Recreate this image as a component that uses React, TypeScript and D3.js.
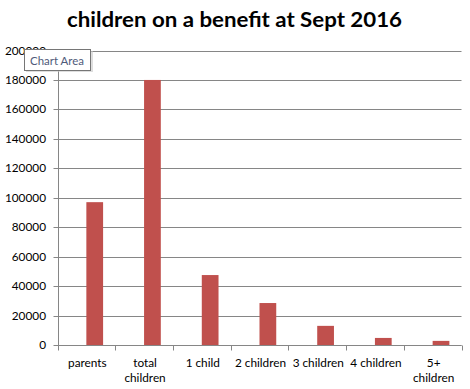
import React from 'react';
import * as d3 from 'd3';

const title = 'children on a benefit at Sept 2016';
const categories = ['parents', 'total children', '1 child', '2 children', '3 children', '4 children', '5+ children'];
const categoryLines = [['parents'], ['total', 'children'], ['1 child'], ['2 children'], ['3 children'], ['4 children'], ['5+', 'children']];
const values = [97000, 180000, 47500, 28500, 13000, 4800, 2800];
const yTicks = [0, 20000, 40000, 60000, 80000, 100000, 120000, 140000, 160000, 180000, 200000];

const W = 470;
const H = 389;
const font = 'Lato, "Open Sans", sans-serif';
const gridColor = '#868686';
const barColor = '#C0504D';

const App = () => {
    const margin = { top: 50.5, right: 8.5, bottom: 44, left: 57.5 };

    const y = d3.scaleLinear()
        .domain([0, 200000])
        .range([H - margin.bottom, margin.top]);

    const x = d3.scaleBand()
        .domain(categories)
        .range([margin.left, W - margin.right])
        .padding(0);

    const bw = x.bandwidth();
    const barWidth = bw * 0.29;
    const px = (v: number) => Math.round(v) + 0.5;
    const y0 = px(y(0));

    return (
        <div style={{ position: 'absolute', left: 0, top: 0 }}>
            <svg width={W} height={H} style={{ display: 'block', background: '#fff' }}>
                <text x={234.5} y={27} textAnchor='middle' fontFamily={font} fontWeight='bold'
                    fontSize={20} fill='#000' textLength={335} lengthAdjust='spacingAndGlyphs'>
                    {title}
                </text>

                {/* gridlines + y ticks */}
                {yTicks.map(t => (
                    <g key={t}>
                        <line x1={margin.left - 4} x2={W - margin.right} y1={px(y(t))} y2={px(y(t))}
                            stroke={gridColor} strokeWidth={1} />
                        <text x={46} y={y(t) + 4} textAnchor='end' fontFamily={font} fontSize={11.8} fill='#000'>
                            {t}
                        </text>
                    </g>
                ))}

                {/* bars */}
                {categories.map((c, i) => (
                    <rect key={c}
                        x={(x(c) as number) + bw / 2}
                        y={y(values[i])}
                        width={barWidth}
                        height={y(0) - y(values[i])}
                        fill={barColor} />
                ))}

                {/* axes */}
                <line x1={px(margin.left)} x2={px(margin.left)} y1={px(y(200000))} y2={y0} stroke={gridColor} />
                <line x1={margin.left} x2={W - margin.right} y1={y0} y2={y0} stroke={gridColor} />
                {categories.concat(['end']).map((c, i) => {
                    const xx = px(margin.left + i * bw);
                    return <line key={c} x1={xx} x2={xx} y1={y0} y2={y0 + 5} stroke={gridColor} />;
                })}

                {/* category labels */}
                {categories.map((c, i) => (
                    <text key={c} textAnchor='middle' fontFamily={font} fontSize={11.8} fill='#000'>
                        {categoryLines[i].map((ln, j) => (
                            <tspan key={j} x={(x(c) as number) + bw / 2 + 1} y={366.5 + j * 15}>{ln}</tspan>
                        ))}
                    </text>
                ))}

                {/* Chart Area tooltip */}
                <rect x={26} y={51} width={67} height={21} fill='#c8c8c8' opacity={0.6} />
                <rect x={24.5} y={49.5} width={66} height={21} fill='#fff' stroke='#767676' />
                <text x={30} y={64.5} fontFamily={font} fontSize={12} fill='#4f5b7a'
                    textLength={54} lengthAdjust='spacingAndGlyphs'>Chart Area</text>
            </svg>
        </div>
    );
};

export default App;
